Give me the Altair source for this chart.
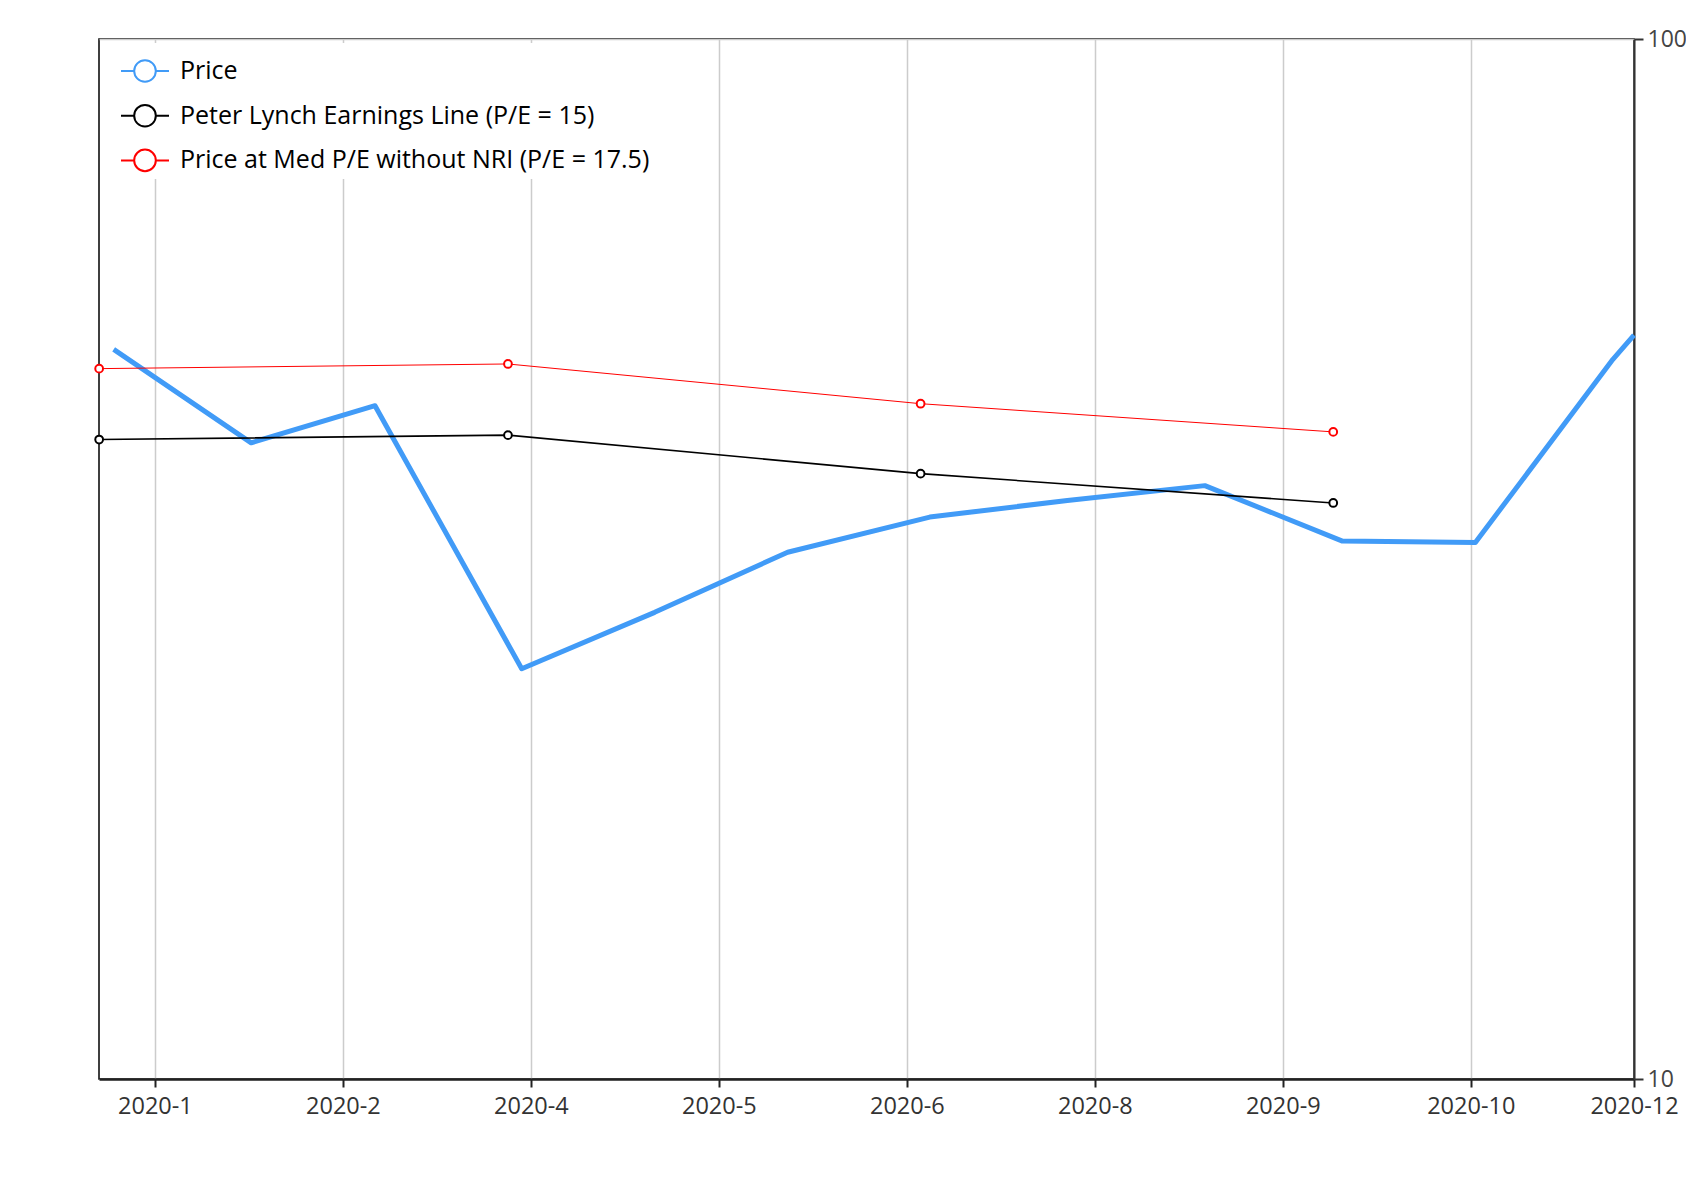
import altair as alt
import pandas as pd

series_names = ["Price", "Peter Lynch Earnings Line (P/E = 15)", "Price at Med P/E without NRI (P/E = 17.5)"]
series_colors = ["#419bf7", "#000000", "#ff0000"]

price_dates = ["2020-01-07", "2020-02-06", "2020-03-04", "2020-04-05", "2020-05-04", "2020-06-02",
               "2020-07-03", "2020-08-02", "2020-09-01", "2020-10-01", "2020-10-30", "2020-11-29",
               "2020-12-03T14:24"]
price_values = [50.3, 40.9, 44.4, 24.8, 28.1, 32.1, 34.7, 36.0, 37.2, 32.9, 32.8, 49.2, 51.9]

pe_dates = ["2020-01-03T20:00", "2020-04-02", "2020-07-01", "2020-09-29"]
lynch_values = [41.2, 41.6, 38.2, 35.8]
med_values = [48.2, 48.7, 44.6, 41.9]

tick_dates = [(1, 16), (2, 26), (4, 7), (5, 18), (6, 28), (8, 8), (9, 18), (10, 29)]


def iso(d):
    return d + ("T00:00:00Z" if "T" not in d else ":00Z")


price_df = pd.DataFrame({"date": [iso(d) for d in price_dates], "value": price_values, "series": series_names[0]})
lynch_df = pd.DataFrame({"date": [iso(d) for d in pe_dates], "value": lynch_values, "series": series_names[1]})
med_df = pd.DataFrame({"date": [iso(d) for d in pe_dates], "value": med_values, "series": series_names[2]})

tick_values = [alt.DateTime(year=2020, month=m, date=d, utc=True) for m, d in tick_dates]
tick_values.append(alt.DateTime(year=2020, month=12, date=3, hours=14, minutes=24, utc=True))

x_domain = [alt.DateTime(year=2020, month=1, date=3, hours=19, minutes=12, utc=True),
            alt.DateTime(year=2020, month=12, date=3, hours=14, minutes=24, utc=True)]

FONT = "Open Sans"

x_enc = alt.X("date:T",
              scale=alt.Scale(type="utc", domain=x_domain),
              axis=alt.Axis(values=tick_values, format="%Y-%-m", title=None, grid=True,
                            gridColor="#cccccc", gridWidth=1.5,
                            domainColor="#222222", domainWidth=2.5,
                            tickColor="#222222", tickWidth=2, tickSize=8,
                            labelFont=FONT, labelFontSize=23.5, labelColor="#333333",
                            labelPadding=7, labelFlush=False, labelOverlap=False))
y_enc = alt.Y("value:Q",
              scale=alt.Scale(type="log", domain=[10, 100]),
              axis=alt.Axis(orient="right", values=[10, 100], format="d", title=None, grid=True,
                            gridColor="#cccccc", gridWidth=1.5,
                            domainColor="#333333", domainWidth=2,
                            tickColor="#333333", tickWidth=2, tickSize=9,
                            labelFont=FONT, labelFontSize=23, labelColor="#444444",
                            labelPadding=4, labelFlush=False))

r = 0.45
sym = (f"M-1,0L-{r},0M{r},0L1,0M{r},0A{r},{r},0,1,1,-{r},0A{r},{r},0,1,1,{r},0Z")

color_enc = alt.Color("series:N",
                      scale=alt.Scale(domain=series_names, range=series_colors),
                      legend=alt.Legend(orient="none", legendX=18, legendY=4, title=None,
                                        symbolType=sym,
                                        symbolSize=2304, symbolStrokeWidth=2,
                                        symbolFillColor="white",
                                        labelFont=FONT, labelFontSize=25, labelColor="#000000",
                                        labelOffset=10, fillColor="white", padding=3,
                                        rowPadding=4.7, labelLimit=1000))

price_line = alt.Chart(price_df).mark_line(strokeWidth=5, strokeJoin="round").encode(
    x=x_enc, y=y_enc, color=color_enc)
lynch_line = alt.Chart(lynch_df).mark_line(strokeWidth=1.6).encode(x=x_enc, y=y_enc, color=color_enc)
med_line = alt.Chart(med_df).mark_line(strokeWidth=1).encode(x=x_enc, y=y_enc, color=color_enc)
pe_points = alt.Chart(pd.concat([lynch_df, med_df])).mark_point(
    filled=False, fill="white", size=60, strokeWidth=2, opacity=1).encode(x=x_enc, y=y_enc, color=color_enc)

chart = alt.layer(price_line, lynch_line, med_line, pe_points).properties(
    width=1535, height=1040,
    autosize=alt.AutoSizeParams(type="none"),
    padding={"left": 91, "top": 31, "right": 52, "bottom": 90},
    background="white",
).configure_view(stroke="#000000", strokeWidth=1.5)

chart.save("out.html", embed_options={"renderer": "svg", "actions": False})
